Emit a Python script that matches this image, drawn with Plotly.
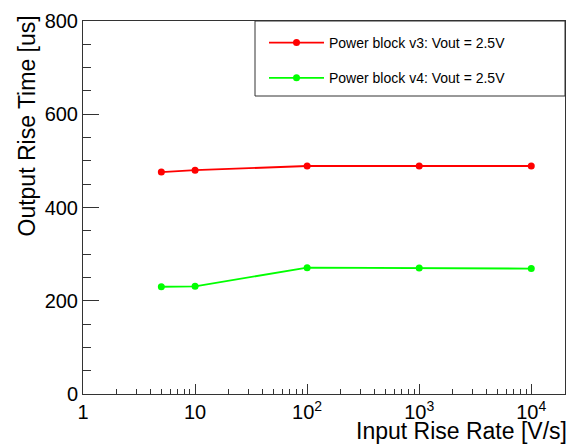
import math
import plotly.graph_objects as go

# ---- data ----
rise_rate = [5, 10, 100, 1000, 10000]                 # Input Rise Rate [V/s]
v3_rise_time = [476, 480, 489, 489, 489]              # Output Rise Time [us]
v4_rise_time = [230, 231, 271, 270, 269]
series_names = ["Power block v3: Vout = 2.5V", "Power block v4: Vout = 2.5V"]
series_colors = ["#ff0000", "#00ff00"]

x_tick_vals = [1, 10, 100, 1000, 10000]
x_tick_text = ["1", "10", "10<sup>2</sup>", "10<sup>3</sup>", "10<sup>4</sup>"]
x_minor_vals = [m * 10 ** d for d in range(0, 5) for m in range(2, 10)]
x_max = 20000
y_tick_vals = [0, 200, 400, 600, 800]
y_tick_text = ["0", "200", "400", "600", "800"]
y_max = 800

x_title = "Input Rise Rate [V/s]"
y_title = "Output Rise Time [us]"

FONT = "Liberation Sans, Arial, Helvetica, sans-serif"
AXC = "#333333"

fig = go.Figure()
for name, ys, col, grp in zip(series_names, [v3_rise_time, v4_rise_time], series_colors, ["a", "b"]):
    fig.add_trace(go.Scatter(
        x=rise_rate, y=ys, name=name, mode="lines+markers",
        line=dict(color=col, width=1.8),
        marker=dict(color=col, size=7, symbol="circle"),
        legendgroup=grp,
    ))

W, H = 570, 446
ml, mr, mt, mb = 83, 5, 21, 52
pw, ph = W - ml - mr, H - mt - mb

fig.update_layout(
    width=W, height=H,
    margin=dict(l=ml, r=mr, t=mt, b=mb, pad=0),
    paper_bgcolor="white", plot_bgcolor="white",
    font=dict(family=FONT, color="black"),
    showlegend=True,
    legend=dict(
        x=(264 - ml) / pw, y=1 - 6 / ph, xanchor="left", yanchor="top",
        bgcolor="rgba(0,0,0,0)", borderwidth=0,
        font=dict(size=14, family=FONT, color="black"),
        itemwidth=55, tracegroupgap=14, traceorder="grouped",
    ),
    xaxis=dict(
        type="log", range=[0, math.log10(x_max)],
        tickmode="array", tickvals=x_tick_vals, ticktext=x_tick_text,
        ticks="inside", ticklen=10, tickwidth=1, tickcolor=AXC,
        showline=True, linecolor=AXC, linewidth=1, mirror=True,
        showgrid=False, zeroline=False,
        tickfont=dict(size=20, family=FONT, color="black"),
        minor=dict(tickmode="array", tickvals=x_minor_vals, ticks="inside",
                   ticklen=5, tickwidth=1, tickcolor=AXC, showgrid=False),
    ),
    yaxis=dict(
        range=[0, y_max],
        tickmode="array", tickvals=y_tick_vals, ticktext=y_tick_text,
        ticks="inside", ticklen=16, tickwidth=1, tickcolor=AXC,
        showline=True, linecolor=AXC, linewidth=1, mirror=True,
        showgrid=False, zeroline=False,
        tickfont=dict(size=20, family=FONT, color="black"),
        minor=dict(dtick=50, ticks="inside", ticklen=8, tickwidth=1,
                   tickcolor=AXC, showgrid=False),
    ),
)

# legend frame
fig.add_shape(type="rect", xref="paper", yref="paper",
              x0=(255 - ml) / pw, x1=1, y0=(H - mb - 96) / ph, y1=1,
              line=dict(color=AXC, width=1), fillcolor="rgba(0,0,0,0)")

# axis titles (ROOT style: right/top aligned)
fig.add_annotation(text=x_title, xref="paper", yref="paper", x=1, y=0,
                   xanchor="right", yanchor="middle", xshift=4, yshift=-37,
                   showarrow=False, font=dict(size=23, family=FONT, color="black"))
fig.add_annotation(text=y_title, xref="paper", yref="paper", x=0, y=1,
                   xanchor="center", yanchor="top", xshift=-57, yshift=7,
                   textangle=-90, showarrow=False,
                   font=dict(size=23, family=FONT, color="black"))

fig.write_html("out.html", config={"displayModeBar": False},
               post_script="document.body.style.margin='0px';")
